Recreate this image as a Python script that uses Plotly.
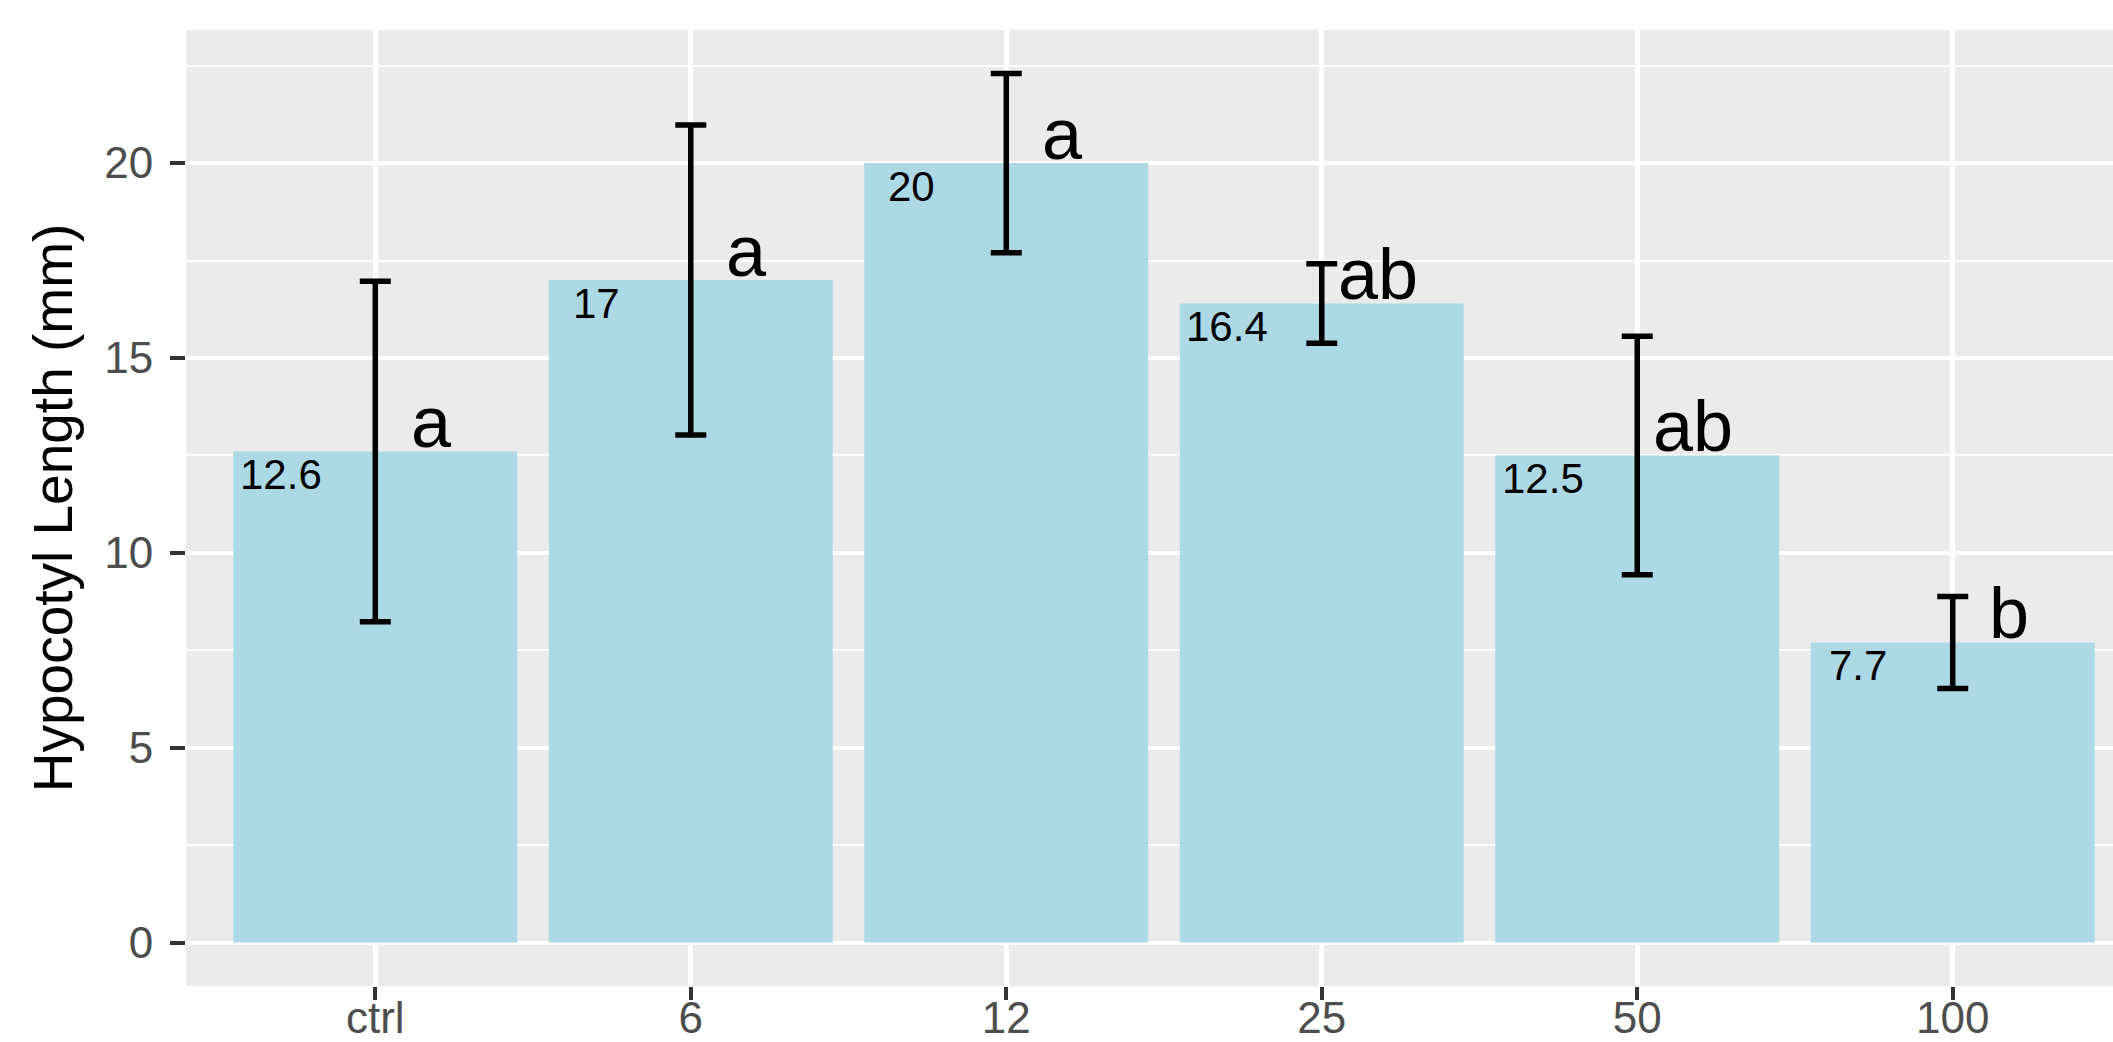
import plotly.graph_objects as go

categories = ["ctrl", "6", "12", "25", "50", "100"]
means = [12.6, 17.0, 20.0, 16.4, 12.5, 7.7]
sd = [4.37, 3.98, 2.30, 1.02, 3.06, 1.18]
letters = ["a", "a", "a", "ab", "ab", "b"]
value_labels = ["12.6", "17", "20", "16.4", "12.5", "7.7"]
y_ticks = [0, 5, 10, 15, 20]

FONT = "Liberation Sans, Arial, Helvetica, sans-serif"
xs = list(range(len(categories)))

fig = go.Figure()
fig.add_trace(go.Bar(
    x=xs, y=means, width=0.9,
    marker=dict(color="#ADD8E6", line=dict(width=0)),
    error_y=dict(type="data", array=sd, symmetric=True, color="black",
                 thickness=5.5, width=15.5),
    hoverinfo="skip", showlegend=False,
))

annotations = []
for i, (m, lab, let) in enumerate(zip(means, value_labels, letters)):
    annotations.append(dict(
        x=i - 0.3, y=m, xref="x", yref="y", text=lab, showarrow=False,
        xanchor="center", yanchor="top", yshift=2,
        font=dict(family=FONT, size=42, color="black"),
    ))
    annotations.append(dict(
        x=i + 0.177, y=m, xref="x", yref="y", text=let, showarrow=False,
        xanchor="center", yanchor="bottom", yshift=-13,
        font=dict(family=FONT, size=72, color="black"),
    ))

fig.update_layout(
    width=2113, height=1042,
    margin=dict(l=186, r=0, t=30, b=56, autoexpand=False),
    paper_bgcolor="white", plot_bgcolor="#EBEBEB",
    font=dict(family=FONT),
    annotations=annotations,
    bargap=0.1,
)
fig.update_xaxes(
    range=[-0.6, 5.508], tickmode="array", tickvals=xs, ticktext=categories,
    showgrid=True, gridcolor="white", gridwidth=4.6, zeroline=False,
    ticks="outside", ticklen=13, tickwidth=4.4, tickcolor="#333333",
    tickfont=dict(family=FONT, size=44, color="#4D4D4D"),
    ticklabelstandoff=-20,
    showline=False,
)
fig.update_yaxes(
    range=[-1.115, 23.415], tickmode="array", tickvals=y_ticks,
    showgrid=True, gridcolor="white", gridwidth=4.4, zeroline=False,
    minor=dict(tickmode="array", tickvals=[2.5, 7.5, 12.5, 17.5, 22.5],
               showgrid=True, gridcolor="white", gridwidth=2.4, ticks=""),
    ticks="outside", ticklen=15, tickwidth=4.4, tickcolor="#333333",
    tickfont=dict(family=FONT, size=44, color="#4D4D4D"),
    ticklabelstandoff=8,
    title=dict(text="Hypocotyl Length (mm)", standoff=13,
               font=dict(family=FONT, size=55, color="black")),
    showline=False,
)

fig.write_html("out.html")
